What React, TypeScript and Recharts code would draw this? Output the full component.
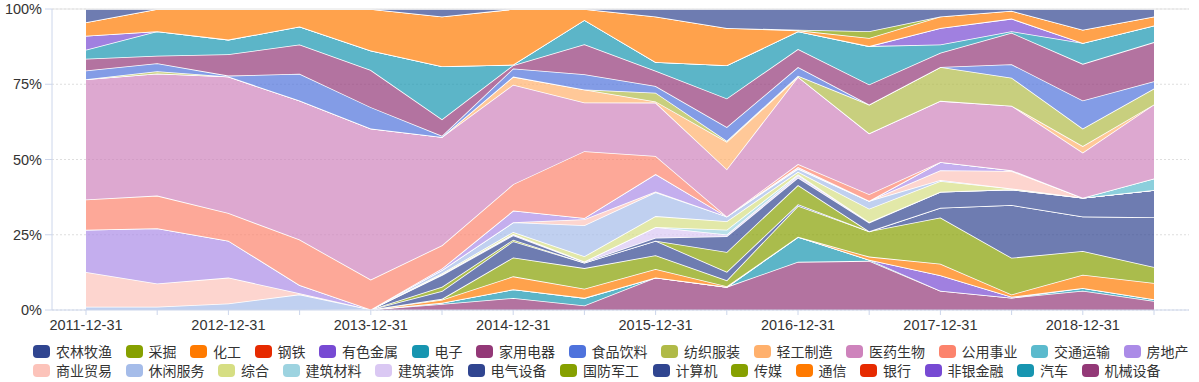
import { AreaChart, Area, XAxis, YAxis, CartesianGrid, ReferenceLine } from 'recharts';

// Half-year reporting dates
const dates = [
  '2011-12-31', '2012-06-30', '2012-12-31', '2013-06-30', '2013-12-31', '2014-06-30',
  '2014-12-31', '2015-06-30', '2015-12-31', '2016-06-30', '2016-12-31', '2017-06-30',
  '2017-12-31', '2018-06-30', '2018-12-31', '2019-06-30',
];

// Weight of each industry (%)
const agriculture = [4.4, 0, 0, 0, 0, 2.5, 0, 0, 2.5, 6.3, 6.9, 7.4, 2.5, 0.6, 6.9, 2.5];
const mining = [0, 0, 0, 0, 0, 0, 0, 0, 0, 0, 0.2, 2.2, 0, 0, 0, 0];
const chemicals = [4.5, 7.4, 10.2, 5.8, 13.8, 16.5, 18.5, 3.6, 15.1, 12.4, 0.3, 2.7, 3.8, 2.6, 4.4, 3.0];
const steel = [0, 0, 0, 0, 0, 0, 0, 0, 0, 0, 0, 0, 0, 0, 0, 0];
const nonferrous = [4.6, 0, 0, 0, 0, 0, 0, 0, 0, 0, 0, 0, 5.5, 4.2, 0, 0];
const electronics = [3.0, 8.1, 4.9, 6.0, 6.5, 17.6, 0.2, 8.0, 2.9, 11.0, 5.9, 12.7, 2.8, 0.5, 6.9, 5.5];
const appliances = [3.9, 2.5, 7.1, 9.7, 12.3, 5.5, 1.1, 9.9, 5.1, 9.5, 6.0, 6.7, 4.7, 10.5, 12.2, 13.0];
const foodBev = [2.9, 2.7, 0.3, 8.9, 7.1, 0.4, 2.7, 5.0, 2.2, 4.6, 2.9, 0, 0, 4.5, 9.3, 2.4];
const textiles = [0, 0.7, 0, 0, 0, 0, 0, 0, 2.9, 0.3, 0.3, 9.5, 11.3, 9.3, 5.8, 5.3];
const lightMfg = [0, 0, 0, 0, 0, 0, 2.7, 4.3, 0.4, 9.1, 0, 0, 0, 0, 2.2, 0];
const pharma = [40, 40.6, 45.5, 46.2, 50.2, 36, 33.1, 16, 17.7, 15.7, 29, 20.2, 20.4, 21.5, 15, 24.6];
const utilities = [10, 10.8, 9.2, 15.1, 9.9, 7.7, 8.8, 22.0, 6.0, 0, 1.0, 2.2, 0, 0, 0, 0];
const transport = [0, 0, 0, 0, 0, 0, 0, 0, 0, 0, 0, 0, 0, 0, 0, 3.8];
const realEstate = [14.1, 18.4, 12.3, 2.7, 0, 0.5, 3.9, 0.4, 5.8, 0, 0.4, 0, 2.7, 0.3, 0, 0];
const commerce = [11.5, 7.7, 8.6, 0.4, 0, 0, 0, 2.0, 0.3, 0, 0.2, 0, 3.3, 5.8, 0, 0];
const leisure = [1.1, 1.1, 2.2, 5.2, 0, 1.1, 3.2, 10.2, 7.9, 1.6, 1.0, 2.6, 0.3, 0, 0, 0];
const conglomerate = [0, 0, 0, 0, 0, 0.3, 0.7, 1.7, 3.6, 2.8, 0.8, 4.4, 3.6, 0.3, 0, 0];
const buildingMaterials = [0, 0, 0, 0, 0, 0, 0, 0, 0, 1.6, 0.3, 0, 0, 0, 0, 0];
const construction = [0, 0, 0, 0, 0, 0.3, 0.4, 0.2, 3.6, 0.6, 0.8, 0.2, 0, 0, 0, 0];
const electricalEquip = [0, 0, 0, 0, 0, 3.9, 1.5, 0.2, 1.0, 5.2, 2.5, 2.9, 5.3, 5.2, 6.2, 9.1];
const defense = [0, 0, 0, 0, 0, 1.4, 0.5, 0, 0, 6.6, 6.4, 0, 0, 0, 0, 0];
const computers = [0, 0, 0, 0, 0, 2.6, 5.4, 1.8, 4.8, 2.8, 0.5, 0, 3.3, 17.6, 11.5, 16.5];
const media = [0, 0, 0, 0, 0, 0.3, 6.3, 6.8, 4.6, 2.0, 10.3, 8.4, 15.4, 12.2, 7.9, 5.3];
const telecom = [0, 0, 0, 0, 0, 1.0, 4.3, 3.0, 2.8, 0.2, 0, 1.0, 3.8, 0.8, 4.4, 5.4];
const banks = [0, 0, 0, 0, 0, 0, 0, 0, 0, 0, 0, 0, 0, 0, 0, 0];
const nonBankFin = [0, 0, 0, 0, 0, 0, 0, 0, 0, 0, 0, 0, 5.2, 0.3, 0, 0];
const autos = [0, 0, 0, 0, 0, 0.4, 2.9, 2.5, 0, 0, 8.3, 0.4, 0, 0, 0.9, 0.6];
const machinery = [0, 0, 0, 0, 0.2, 2.0, 4.0, 1.5, 10.8, 7.7, 16.0, 16.3, 6.4, 4.1, 6.4, 3.0];

const yTicks = [0, 0.25, 0.5, 0.75, 1];

// legend order (first item sits on top of the stack)
const series = [
  { name: '农林牧渔', color: '#304590', values: agriculture },
  { name: '采掘', color: '#86a000', values: mining },
  { name: '化工', color: '#ff7a00', values: chemicals },
  { name: '钢铁', color: '#e62a00', values: steel },
  { name: '有色金属', color: '#774ad3', values: nonferrous },
  { name: '电子', color: '#1795b0', values: electronics },
  { name: '家用电器', color: '#933877', values: appliances },
  { name: '食品饮料', color: '#4e72dc', values: foodBev },
  { name: '纺织服装', color: '#b0ba47', values: textiles },
  { name: '轻工制造', color: '#ffb06c', values: lightMfg },
  { name: '医药生物', color: '#ce83bc', values: pharma },
  { name: '公用事业', color: '#fc836c', values: utilities },
  { name: '交通运输', color: '#5bbacd', values: transport },
  { name: '房地产', color: '#ab8be7', values: realEstate },
  { name: '商业贸易', color: '#fcc3ba', values: commerce },
  { name: '休闲服务', color: '#a5bce9', values: leisure },
  { name: '综合', color: '#d6de83', values: conglomerate },
  { name: '建筑材料', color: '#9dd3e0', values: buildingMaterials },
  { name: '建筑装饰', color: '#dac8f3', values: construction },
  { name: '电气设备', color: '#304590', values: electricalEquip },
  { name: '国防军工', color: '#86a000', values: defense },
  { name: '计算机', color: '#304590', values: computers },
  { name: '传媒', color: '#86a000', values: media },
  { name: '通信', color: '#ff7a00', values: telecom },
  { name: '银行', color: '#e62a00', values: banks },
  { name: '非银金融', color: '#774ad3', values: nonBankFin },
  { name: '汽车', color: '#1795b0', values: autos },
  { name: '机械设备', color: '#933877', values: machinery },
];

const chartData = dates.map((date, i) => {
  const row: Record<string, string | number> = { date };
  series.forEach(s => {
    row[s.name] = s.values[i];
  });
  return row;
});

const stackOrder = [...series].reverse();
const legendRows = [series.slice(0, 14), series.slice(14)];

const FONT = '"Noto Sans CJK SC", "Noto Sans", sans-serif';
const TICK_FONT = '"Liberation Sans", Arial, sans-serif';
const AXIS_COLOR = '#ccd6eb';

export default function App() {
  return (
    <div style={{ position: 'absolute', left: 0, top: 0, width: 1199, height: 382, background: '#fff', fontFamily: FONT }}>
      <AreaChart
        width={1199}
        height={340}
        data={chartData}
        stackOffset="expand"
        margin={{ top: 9, right: 10, bottom: 0, left: 0 }}
      >
        <CartesianGrid vertical={false} stroke="#dedede" strokeDasharray="2 2" />
        <XAxis
          dataKey="date"
          interval={0}
          padding={{ left: 34, right: 35 }}
          height={30}
          tickSize={5}
          tickMargin={5}
          stroke={AXIS_COLOR}
          tick={{ fill: '#333', fontSize: 14.5, fontFamily: TICK_FONT }}
          tickFormatter={(v: string, i: number) => (i % 2 === 0 ? v : '')}
        />
        <YAxis
          width={52}
          domain={[0, 1]}
          ticks={yTicks}
          tickSize={7}
          tickMargin={3}
          stroke={AXIS_COLOR}
          tick={{ fill: '#333', fontSize: 14.5, fontFamily: TICK_FONT }}
          tickFormatter={(v: number) => `${Math.round(v * 100)}%`}
        />
        <YAxis
          yAxisId="frame"
          orientation="right"
          width={0}
          tick={false}
          tickLine={false}
          axisLine={{ stroke: '#e3e3e3' }}
        />
        <ReferenceLine y={1} stroke="#e3e3e3" />
        {stackOrder.map(s => (
          <Area
            key={s.name}
            type="linear"
            dataKey={s.name}
            stackId="all"
            stroke="#ffffff"
            strokeWidth={1.6}
            fill={s.color}
            fillOpacity={0.7}
            dot={false}
            activeDot={false}
            isAnimationActive={false}
          />
        ))}
      </AreaChart>
      <div style={{ position: 'absolute', left: 33, top: 342, fontSize: 14, color: '#333' }}>
        {legendRows.map((row, r) => (
          <div key={r} style={{ display: 'flex', alignItems: 'center', height: 19, whiteSpace: 'nowrap' }}>
            {row.map(s => (
              <div key={s.name} style={{ display: 'flex', alignItems: 'center', marginRight: 13.5 }}>
                <span
                  style={{ display: 'inline-block', width: 17, height: 13, borderRadius: 4, background: s.color, marginRight: 6 }}
                />
                <span style={{ lineHeight: '19px' }}>{s.name}</span>
              </div>
            ))}
          </div>
        ))}
      </div>
    </div>
  );
}
